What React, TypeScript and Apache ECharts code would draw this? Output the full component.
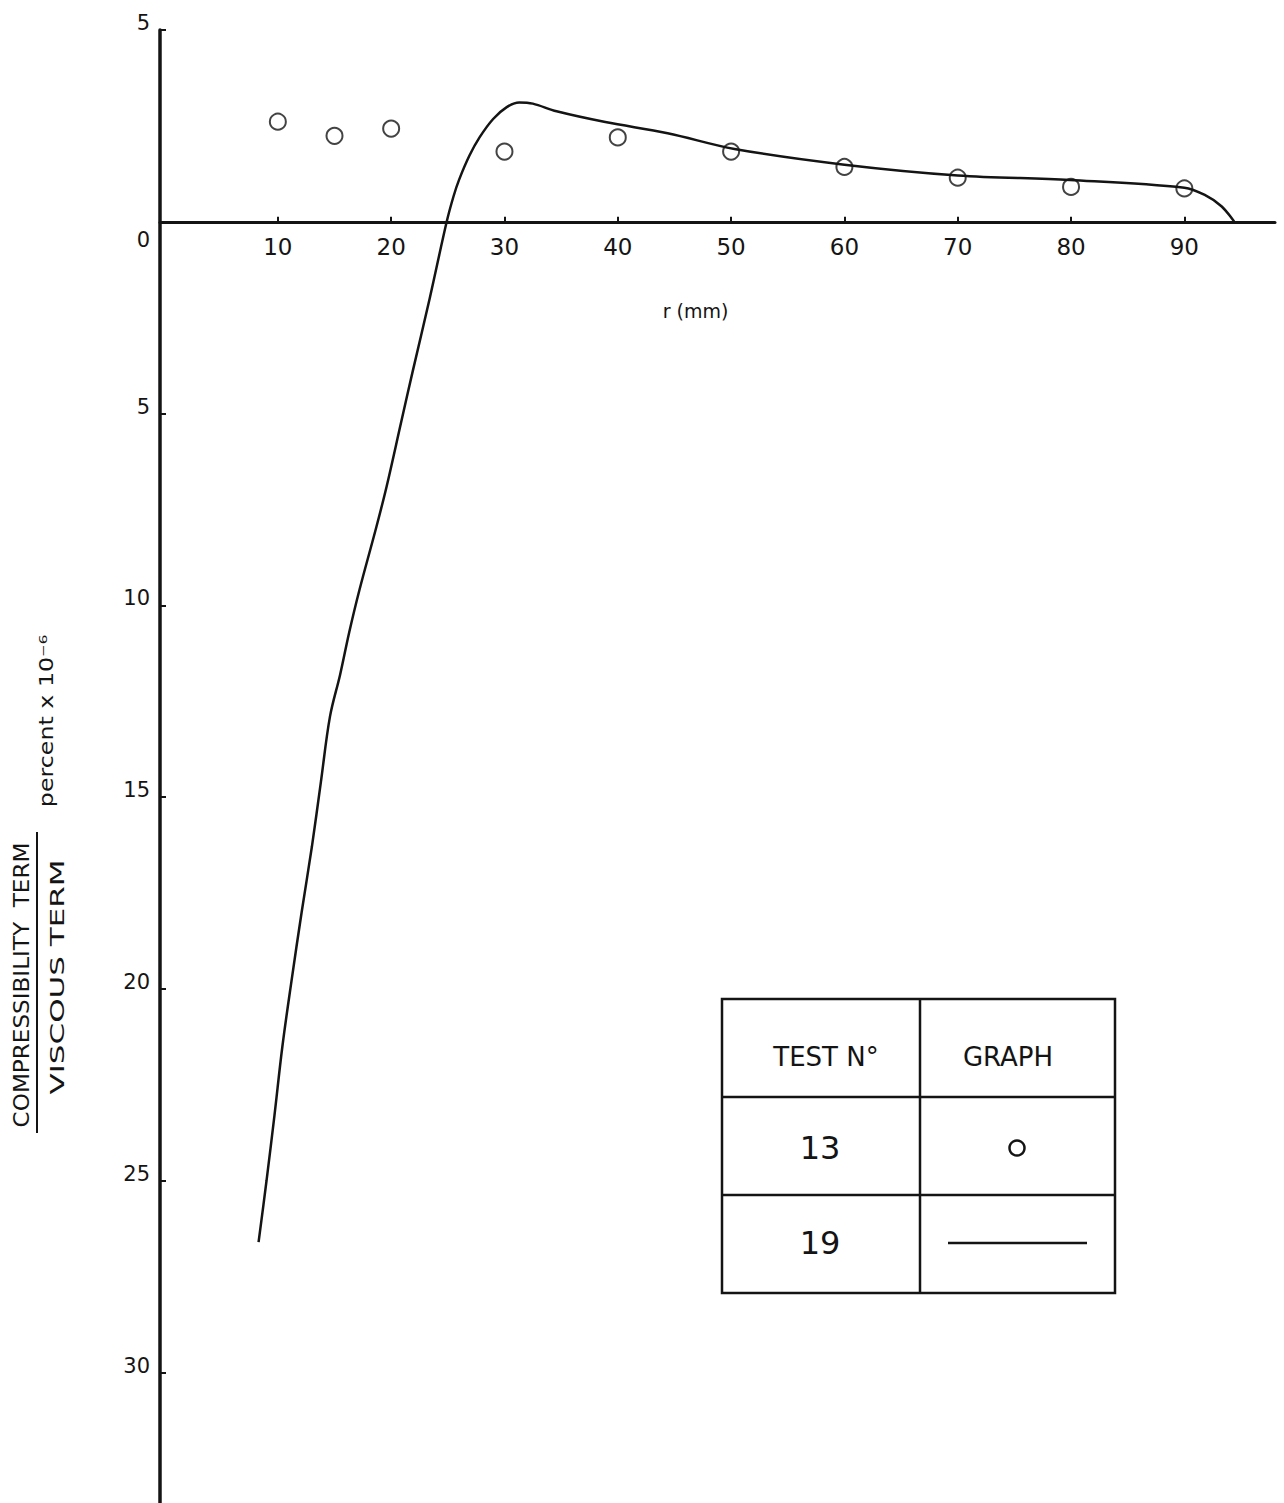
import React, { useEffect, useRef } from "react";
import * as echarts from "echarts";

// Tick positions along each axis
const radiusTicks = [10, 20, 30, 40, 50, 60, 70, 80, 90];
const ratioTicks = [5, 0, -5, -10, -15, -20, -25, -30];

// Test 13: measured points (r in mm, ratio in percent x 10^-6)
const test13R = [10, 15, 20, 30, 40, 50, 60, 70, 80, 90];
const test13Ratio = [2.61, 2.24, 2.43, 1.83, 2.2, 1.83, 1.43, 1.15, 0.91, 0.87];

// Test 19: continuous curve
const test19R = [
  8.3, 9.0, 9.7, 10.4, 11.2, 12.1, 13.0, 13.8, 14.6, 15.5, 16.3, 17.2, 18.7,
  19.6, 20.9, 21.9, 23.4, 24.9, 25.5, 26.0, 26.9, 27.8, 29.0, 30.2, 31.3, 32.5,
  34.6, 38.9, 44.4, 50.3, 60.0, 70.0, 79.9, 90.0, 91.8, 93.3, 94.4,
];
const test19Ratio = [
  -26.6, -25.0, -23.3, -21.5, -19.8, -18.0, -16.3, -14.6, -12.9, -11.8, -10.7,
  -9.6, -7.95, -6.9, -5.2, -3.9, -2.0, 0, 0.66, 1.1, 1.72, 2.2, 2.68, 2.99,
  3.11, 3.08, 2.88, 2.6, 2.31, 1.9, 1.49, 1.21, 1.09, 0.89, 0.7, 0.4, 0,
];

const INK = "#141414";
const FONT = "DejaVu Sans";

// Plot area: value 5 at the top edge, axis running to the bottom of the page
const GRID_TOP = 30;
const GRID_HEIGHT = 1473;
const Y_MIN = -33.4;
const Y_MAX = 5;

export default function App() {
  const ref = useRef<HTMLDivElement>(null);

  useEffect(() => {
    if (!ref.current) return;
    const chart = echarts.init(ref.current, null, { renderer: "svg" });

    // the horizontal axis sits on ratio = 0, lifted up from the grid bottom
    const zeroFromBottom = (GRID_HEIGHT * (0 - Y_MIN)) / (Y_MAX - Y_MIN);

    const lineStyle = { stroke: INK, lineWidth: 2.5 };
    const cellText = (text: string, x: number, y: number, size: number) => ({
      type: "text",
      x,
      y,
      style: {
        text,
        fill: INK,
        fontSize: size,
        fontFamily: FONT,
        align: "center",
        verticalAlign: "middle",
      },
    });

    chart.setOption({
      animation: false,
      backgroundColor: "#ffffff",
      grid: {
        left: 160,
        right: 9,
        top: GRID_TOP,
        height: GRID_HEIGHT,
        containLabel: false,
        outerBoundsMode: "none",
      },
      xAxis: {
        type: "value",
        min: -0.4,
        max: 98,
        position: "bottom",
        offset: -zeroFromBottom,
        axisLine: { onZero: false, lineStyle: { color: INK, width: 3 } },
        axisTick: {
          show: true,
          inside: true,
          length: 5,
          customValues: radiusTicks,
          lineStyle: { color: INK, width: 2 },
        },
        axisLabel: {
          customValues: radiusTicks,
          margin: 14,
          fontSize: 23,
          color: INK,
          fontFamily: FONT,
        },
        splitLine: { show: false },
        name: "r (mm)",
        nameLocation: "middle",
        nameGap: 80,
        nameTextStyle: {
          fontSize: 19,
          color: INK,
          fontFamily: FONT,
          padding: [0, 44, 0, 0],
        },
      },
      yAxis: {
        type: "value",
        min: Y_MIN,
        max: Y_MAX,
        axisLine: { show: true, onZero: false, lineStyle: { color: INK, width: 3.5 } },
        axisTick: {
          show: true,
          inside: true,
          length: 6,
          customValues: ratioTicks,
          lineStyle: { color: INK, width: 2 },
        },
        axisLabel: {
          customValues: ratioTicks,
          margin: 10,
          formatter: (v: number) =>
            v === 0 ? "{z|0}" : "{n|" + Math.abs(v) + "}",
          rich: {
            z: {
              fontSize: 21,
              fontFamily: FONT,
              color: INK,
              padding: [36, 0, 0, 0],
            },
            n: {
              fontSize: 21,
              fontFamily: FONT,
              color: INK,
              padding: [0, 0, 14, 0],
            },
          },
        },
        splitLine: { show: false },
      },
      series: [
        {
          name: "19",
          type: "line",
          data: test19R.map((r, i) => [r, test19Ratio[i]]),
          smooth: 0.35,
          showSymbol: false,
          lineStyle: { color: INK, width: 2.5 },
          z: 2,
        },
        {
          name: "13",
          type: "scatter",
          data: test13R.map((r, i) => [r, test13Ratio[i]]),
          symbol: "circle",
          symbolSize: 16,
          itemStyle: {
            color: "rgba(0,0,0,0)",
            borderColor: INK,
            borderWidth: 2,
          },
          z: 3,
        },
      ],
      graphic: [
        // y-axis title: ratio of terms, written sideways
        {
          type: "text",
          x: 21,
          y: 985,
          rotation: Math.PI / 2,
          scaleX: 1.05,
          style: {
            text: "COMPRESSIBILITY  TERM",
            fill: INK,
            fontSize: 22,
            fontFamily: FONT,
            align: "center",
            verticalAlign: "middle",
          },
        },
        {
          type: "line",
          shape: { x1: 37, y1: 832, x2: 37, y2: 1133 },
          style: { stroke: INK, lineWidth: 2 },
        },
        {
          type: "text",
          x: 57,
          y: 977,
          rotation: Math.PI / 2,
          scaleX: 1.55,
          style: {
            text: "VISCOUS TERM",
            fill: INK,
            fontSize: 20,
            fontFamily: FONT,
            align: "center",
            verticalAlign: "middle",
          },
        },
        {
          type: "text",
          x: 46,
          y: 721,
          rotation: Math.PI / 2,
          scaleX: 1.25,
          style: {
            text: "percent x 10⁻⁶",
            fill: INK,
            fontSize: 19,
            fontFamily: FONT,
            align: "center",
            verticalAlign: "middle",
          },
        },
        // key table
        {
          type: "rect",
          shape: { x: 722, y: 999, width: 393, height: 294 },
          style: { fill: "none", ...lineStyle },
        },
        { type: "line", shape: { x1: 920, y1: 999, x2: 920, y2: 1293 }, style: lineStyle },
        { type: "line", shape: { x1: 722, y1: 1097, x2: 1115, y2: 1097 }, style: lineStyle },
        { type: "line", shape: { x1: 722, y1: 1195, x2: 1115, y2: 1195 }, style: lineStyle },
        cellText("TEST N°", 826, 1057, 26),
        cellText("GRAPH", 1008, 1057, 26),
        cellText("13", 820, 1148, 32),
        cellText("19", 820, 1243, 32),
        {
          type: "circle",
          shape: { cx: 1017, cy: 1148, r: 7.5 },
          style: { fill: "none", stroke: INK, lineWidth: 2.5 },
        },
        { type: "line", shape: { x1: 948, y1: 1243, x2: 1087, y2: 1243 }, style: lineStyle },
      ],
    });

    return () => chart.dispose();
  }, []);

  return (
    <div
      ref={ref}
      style={{ position: "absolute", left: 0, top: 0, width: 1284, height: 1503 }}
    />
  );
}
